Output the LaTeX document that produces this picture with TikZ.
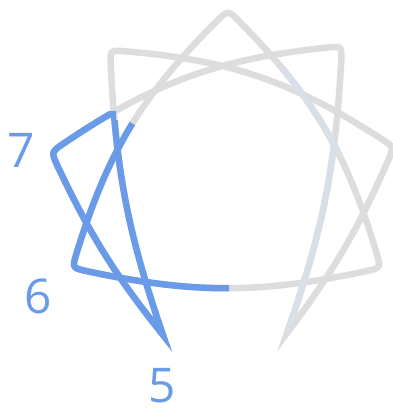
\documentclass[tikz,border=0pt]{standalone}
\usepackage{fontspec}
\setmainfont{Open Sans}
\usetikzlibrary{calc}
\definecolor{eblue}{RGB}{106,155,232}
\definecolor{egray}{RGB}{221,221,221}
\definecolor{etint}{RGB}{217,223,233}
\newcommand\myr{16bp}
\begin{document}
\begin{tikzpicture}[x=1bp,y=-1bp, line width=6.5bp, line cap=butt,
  numlabel/.style={text=eblue, font=\fontsize{48}{48}\selectfont, anchor=base, inner sep=0pt}]
\useasboundingbox (0,0) rectangle (393,408);
% nonagon vertices (enneagram points)
\coordinate (v9) at (228,10);
\coordinate (v1) at (342,46);
\coordinate (v2) at (394,147);
\coordinate (v3) at (381,268);
\coordinate (v4) at (287,333);
\coordinate (v5) at (163,335);
\coordinate (v6) at (72,268);
\coordinate (v7) at (51,152);
\coordinate (v8) at (110,50);
% triangle 9-3-6 (clockwise, bulging outward)
\coordinate (s93) at ($(v9)!\myr!14:(v3)$);
\coordinate (e93) at ($(v3)!\myr!-14:(v9)$);
\coordinate (s36) at ($(v3)!\myr!12:(v6)$);
\coordinate (e36) at ($(v6)!\myr!-12:(v3)$);
\coordinate (s69) at ($(v6)!\myr!14:(v9)$);
\coordinate (e69) at ($(v9)!\myr!-14:(v6)$);
% hexad 1-4-2-8-5-7-1
\coordinate (e57) at ($(v7)!\myr!-6.5:(v5)$);
\coordinate (s71) at ($(v7)!\myr!14:(v1)$);
\coordinate (e71) at ($(v1)!\myr!-14:(v7)$);
\coordinate (s14) at ($(v1)!\myr!8:(v4)$);
\coordinate (e42) at ($(v2)!\myr!6.5:(v4)$);
\coordinate (s28) at ($(v2)!\myr!-14:(v8)$);
\coordinate (e28) at ($(v8)!\myr!14:(v2)$);
\coordinate (s85) at ($(v8)!\myr!-8:(v5)$);

\def\tripath{(s93) to[bend left=14] (e93) .. controls (v3) .. (s36) to[bend left=12] (e36) .. controls (v6) .. (s69) to[bend left=14] (e69) .. controls (v9) .. (s93) -- cycle}

\draw[egray, line join=round] \tripath;
\draw[egray, line join=miter] (v5) to[bend left=6.5] (e57) .. controls (v7) .. (s71) to[bend left=14] (e71) .. controls (v1) .. (s14) to[bend left=8] (v4) to[bend right=6.5] (e42) .. controls (v2) .. (s28) to[bend right=14] (e28) .. controls (v8) .. (s85) to[bend right=8] (v5);

% faint tint on the right
\begin{scope}
\clip (280,68) rectangle (393,152);
\draw[etint, line join=round] \tripath;
\end{scope}
\begin{scope}
\clip (250,150) rectangle (393,408);
\draw[etint] (s14) to[bend left=8] (v4);
\end{scope}

% blue highlights around 5, 6, 7
\begin{scope}
\clip (0,408) -- (229,408) -- (229,185) -- (186,156) -- (0,43) -- cycle;
\draw[eblue, line join=round] \tripath;
\end{scope}
\begin{scope}
\clip (0,111) -- (116,111) -- (116,120) -- (250,120) -- (250,408) -- (0,408) -- cycle;
\draw[eblue, line join=miter] (s85) to[bend right=8] (v5) to[bend left=6.5] (e57) .. controls (v7) .. (s71) to[bend left=14] (e71);
\end{scope}

\node[numlabel] (n7) at (21.5,167) {7};
\node[numlabel] (n6) at (38.5,313) {6};
\node[numlabel] (n5) at (162,402) {5};
\end{tikzpicture}
\end{document}
